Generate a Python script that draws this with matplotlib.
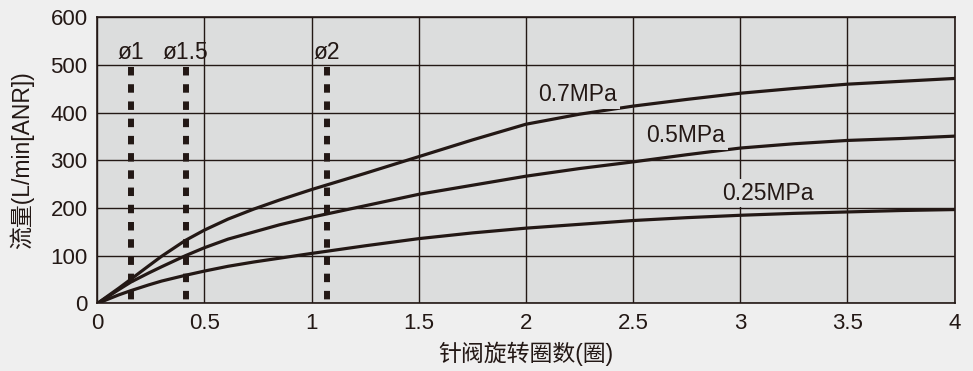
import matplotlib
matplotlib.use("Agg")
import matplotlib.pyplot as plt

plt.rcParams["font.family"] = ["Liberation Sans", "Noto Sans CJK SC", "DejaVu Sans"]
plt.rcParams["lines.scale_dashes"] = False

INK = "#231815"
AX_BG = "#dcdddd"
FIG_BG = "#efefef"

# needle valve turns vs flow
turns = [0, 0.1, 0.157, 0.24, 0.3, 0.41, 0.5, 0.61, 0.73, 0.85, 1.0, 1.25, 1.5,
         1.75, 2.0, 2.25, 2.5, 2.75, 3.0, 3.25, 3.5, 3.75, 4.0]
flow_07 = [0, 32, 51, 79, 99, 132, 154, 177, 198, 217, 239, 273, 308,
           343, 376, 397, 414, 428, 441, 451, 460, 466, 472]
flow_05 = [0, 29, 45, 64, 77, 100, 117, 135, 150, 165, 181, 205, 229,
           248, 267, 283, 297, 312, 326, 335, 342, 346, 351]
flow_025 = [0, 18, 27, 39, 47, 59, 68, 78, 87, 95, 105, 121, 136,
            148, 158, 166, 174, 180, 185, 189, 192, 195, 197]

curve_labels = ["0.7MPa", "0.5MPa", "0.25MPa"]
curve_label_pos = [(2.243, 424), (2.744, 338), (3.130, 218)]

orifice_labels = ["ø1", "ø1.5", "ø2"]
orifice_turns = [0.157, 0.4125, 1.072]
orifice_top = 496

xticks = [0, 0.5, 1, 1.5, 2, 2.5, 3, 3.5, 4]
xtick_labels = ["0", "0.5", "1", "1.5", "2", "2.5", "3", "3.5", "4"]
yticks = [0, 100, 200, 300, 400, 500, 600]

fig = plt.figure(figsize=(9.73, 3.71), dpi=100, facecolor=FIG_BG)
ax = fig.add_axes([0.100, 0.182, 0.881, 0.771])
ax.set_facecolor(AX_BG)

ax.set_xlim(0, 4)
ax.set_ylim(0, 600)
ax.set_xticks(xticks)
ax.set_xticklabels(xtick_labels)
ax.set_yticks(yticks)
ax.tick_params(axis="both", length=0, labelsize=16, colors=INK)
ax.tick_params(axis="x", pad=7)
ax.tick_params(axis="y", pad=7)
ax.grid(True, color=INK, linewidth=1.0, zorder=1)
ax.set_axisbelow(True)
for s in ax.spines.values():
    s.set_color(INK)
    s.set_linewidth(1.2)

# orifice markers
for xv, lab in zip(orifice_turns, orifice_labels):
    ax.plot([xv, xv], [orifice_top, 0], color=INK, linewidth=4.3,
            linestyle=(0, (6.1, 6.3)), solid_capstyle="butt",
            dash_capstyle="butt", zorder=3)
    ax.text(xv, 512, lab, ha="center", va="baseline", fontsize=16.5, color=INK)

for flow in (flow_07, flow_05, flow_025):
    ax.plot(turns, flow, color=INK, linewidth=2.3, solid_joinstyle="round", zorder=4)

for lab, (xv, yv) in zip(curve_labels, curve_label_pos):
    ax.text(xv, yv, lab, ha="center", va="baseline", fontsize=16.5, color=INK,
            bbox=dict(facecolor=AX_BG, edgecolor="none", pad=2), zorder=5)

ax.set_xlabel("针阀旋转圈数(圈)", fontsize=16.5, color=INK, labelpad=5)
ax.set_ylabel("流量(L/min[ANR])", fontsize=16.5, color=INK, labelpad=12)

fig.savefig("out.png", dpi=100, facecolor=FIG_BG)
